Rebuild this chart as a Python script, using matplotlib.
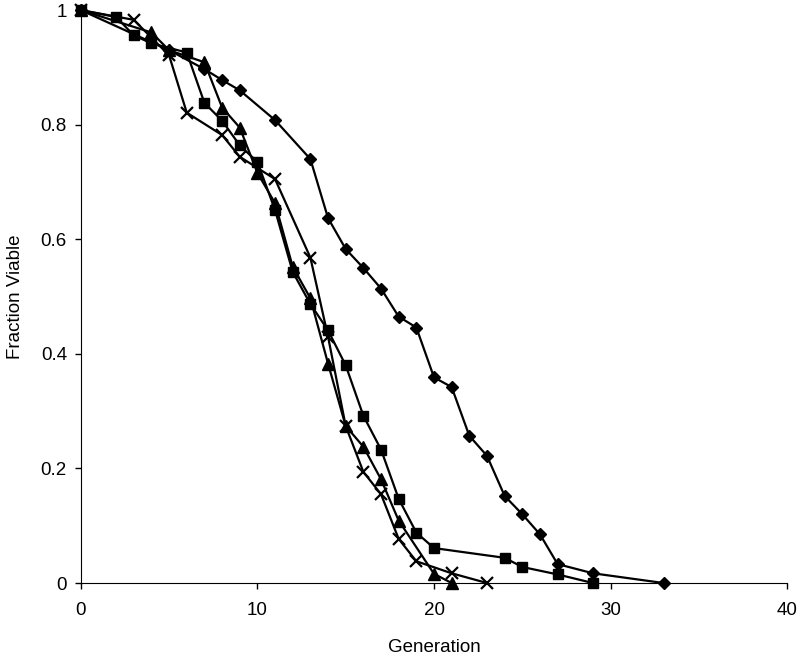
import matplotlib
matplotlib.use('Agg')
import matplotlib.pyplot as plt

plt.rcParams['font.family'] = ['Liberation Sans', 'DejaVu Sans']

# diamonds
gen_d = [0, 5, 7, 8, 9, 11, 13, 14, 15, 16, 17, 18, 19, 20, 21, 22, 23, 24, 25, 26, 27, 29, 33]
frac_d = [1.0, 0.93, 0.897, 0.878, 0.860, 0.808, 0.740, 0.637, 0.583, 0.550, 0.514, 0.465, 0.446,
          0.359, 0.342, 0.257, 0.222, 0.152, 0.120, 0.085, 0.033, 0.017, 0.0]

# squares
gen_s = [0, 2, 3, 4, 6, 7, 8, 9, 10, 11, 12, 13, 14, 15, 16, 17, 18, 19, 20, 24, 25, 27, 29]
frac_s = [1.0, 0.988, 0.956, 0.942, 0.926, 0.838, 0.807, 0.764, 0.735, 0.651, 0.543, 0.487,
          0.441, 0.380, 0.292, 0.233, 0.147, 0.088, 0.061, 0.044, 0.028, 0.015, 0.0]

# triangles
gen_t = [0, 4, 5, 7, 8, 9, 10, 11, 12, 13, 14, 15, 16, 17, 18, 20, 21]
frac_t = [1.0, 0.961, 0.93, 0.909, 0.830, 0.795, 0.716, 0.663, 0.552, 0.497, 0.383, 0.274,
          0.238, 0.181, 0.109, 0.016, 0.0]

# crosses
gen_x = [0, 3, 5, 6, 8, 9, 11, 13, 14, 15, 16, 17, 18, 19, 21, 23]
frac_x = [1.0, 0.983, 0.921, 0.821, 0.782, 0.744, 0.705, 0.568, 0.430, 0.274, 0.194, 0.155,
          0.077, 0.038, 0.017, 0.0]

fig = plt.figure(figsize=(8, 6.57), dpi=100)
ax = fig.add_axes([0.101, 0.1126, 0.883, 0.872])

ax.plot(gen_d, frac_d, color='black', lw=1.6, marker='D', ms=6.5, clip_on=False, zorder=3)
ax.plot(gen_s, frac_s, color='black', lw=1.6, marker='s', ms=7.5, clip_on=False, zorder=3)
ax.plot(gen_t, frac_t, color='black', lw=1.6, marker='^', ms=8.5, clip_on=False, zorder=3)
ax.plot(gen_x, frac_x, color='black', lw=1.6, marker='x', ms=8, mew=1.6, clip_on=False, zorder=3)

ax.set_xlim(0, 40)
ax.set_ylim(0, 1)
ax.set_xticks([0, 10, 20, 30, 40])
ax.set_yticks([0, 0.2, 0.4, 0.6, 0.8, 1.0])
ax.set_yticklabels(['0', '0.2', '0.4', '0.6', '0.8', '1'])
ax.tick_params(direction='out', length=4, width=1, labelsize=13.5)
ax.tick_params(axis='x', pad=10)
ax.tick_params(axis='y', pad=6)
ax.spines['top'].set_visible(False)
ax.spines['right'].set_visible(False)
ax.set_xlabel('Generation', fontsize=13.5, labelpad=14)
ax.set_ylabel('Fraction Viable', fontsize=13.5, labelpad=12)

fig.savefig('out.png', dpi=100)
